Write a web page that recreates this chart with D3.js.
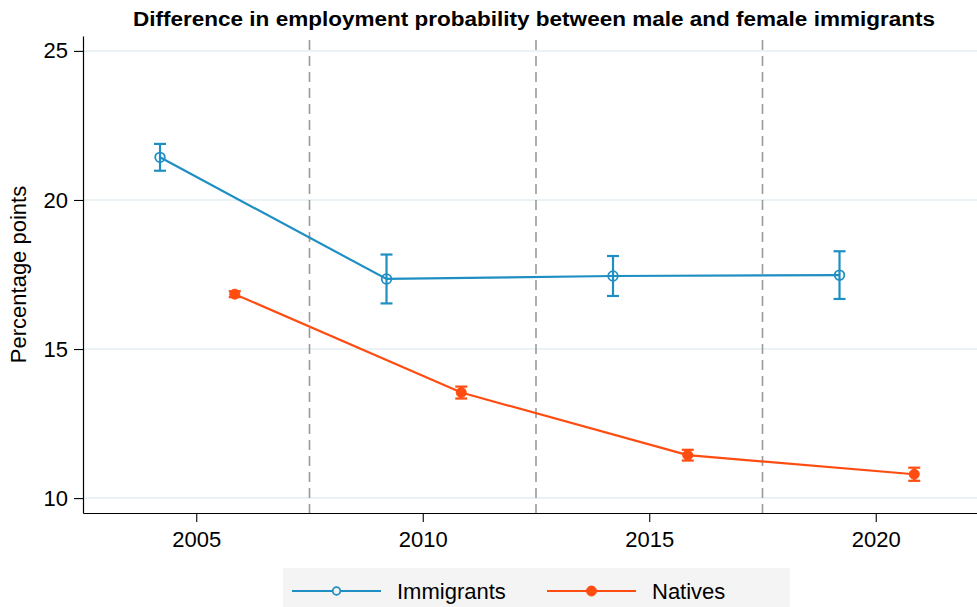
<!DOCTYPE html>
<html>
<head>
<meta charset="utf-8">
<script src="https://cdn.jsdelivr.net/npm/d3@7/dist/d3.min.js"></script>
<style>
  html, body { margin: 0; padding: 0; background: #ffffff; }
  svg { display: block; font-family: "Liberation Sans", Arial, Helvetica, sans-serif; }
</style>
</head>
<body>
<svg id="chart" width="977" height="607"></svg>
<script>
// Survey periods (x positions are offset within each 5-year window)
const immigrantYears = [2004.2, 2009.2, 2014.2, 2019.2];
const immigrantValues = [21.43, 17.35, 17.45, 17.48];
const immigrantLow = [20.98, 16.53, 16.78, 16.68];
const immigrantHigh = [21.88, 18.17, 18.12, 18.28];

const nativeYears = [2005.85, 2010.85, 2015.85, 2020.85];
const nativeValues = [16.84, 13.54, 11.44, 10.80];
const nativeLow = [16.74, 13.34, 11.26, 10.58];
const nativeHigh = [16.94, 13.74, 11.62, 11.02];

const periodBreaks = [2007.5, 2012.5, 2017.5];
const xTicks = [2005, 2010, 2015, 2020];
const yTicks = [10, 15, 20, 25];

const titleText = "Difference in employment probability between male and female immigrants";
const yLabel = "Percentage points";
const seriesNames = ["Immigrants", "Natives"];

const blue = "#1f8fc3";
const orange = "#ff4d12";

const svg = d3.select("#chart");

const x = d3.scaleLinear().domain([2002.5, 2022.5]).range([83, 989]);
const y = d3.scaleLinear().domain([9.5, 25.5]).range([513, 36]);

// horizontal grid
svg.append("g").selectAll("line").data(yTicks).join("line")
  .attr("x1", x.range()[0]).attr("x2", x.range()[1])
  .attr("y1", d => y(d)).attr("y2", d => y(d))
  .attr("stroke", "#e3eef2").attr("stroke-width", 1.5);

// period separators
svg.append("g").selectAll("line").data(periodBreaks).join("line")
  .attr("x1", d => x(d)).attr("x2", d => x(d))
  .attr("y1", y.range()[1] + 4).attr("y2", y.range()[0])
  .attr("stroke", "#9a9a9a").attr("stroke-width", 1.6)
  .attr("stroke-dasharray", "10,6");

// axes
const xAxis = svg.append("g").attr("transform", `translate(0,${y.range()[0]})`)
  .call(d3.axisBottom(x).tickValues(xTicks).tickFormat(d3.format("d"))
    .tickSizeInner(9).tickSizeOuter(0).tickPadding(9));
const yAxis = svg.append("g").attr("transform", `translate(${x.range()[0]},0)`)
  .call(d3.axisLeft(y).tickValues(yTicks)
    .tickSizeInner(9).tickSizeOuter(0).tickPadding(6));
[xAxis, yAxis].forEach(a => {
  a.select(".domain").attr("stroke", "#000").attr("stroke-width", 1.2);
  a.selectAll(".tick line").attr("stroke", "#000").attr("stroke-width", 1.1);
  a.selectAll(".tick text").attr("fill", "#000").style("font-size", "22px")
    .style("font-family", "'Liberation Sans', Arial, sans-serif");
});

function drawSeries(years, values, low, high, color, hollow) {
  const g = svg.append("g");
  const line = d3.line().x((d, i) => x(years[i])).y(d => y(d));
  g.append("path").datum(values).attr("d", line)
    .attr("fill", "none").attr("stroke", color).attr("stroke-width", 2.2);
  const cap = 6;
  const eb = g.append("g").selectAll("g").data(values).join("g");
  eb.append("line")
    .attr("x1", (d, i) => x(years[i])).attr("x2", (d, i) => x(years[i]))
    .attr("y1", (d, i) => y(low[i])).attr("y2", (d, i) => y(high[i]))
    .attr("stroke", color).attr("stroke-width", 2.2);
  eb.append("line")
    .attr("x1", (d, i) => x(years[i]) - cap).attr("x2", (d, i) => x(years[i]) + cap)
    .attr("y1", (d, i) => y(low[i])).attr("y2", (d, i) => y(low[i]))
    .attr("stroke", color).attr("stroke-width", 2.2);
  eb.append("line")
    .attr("x1", (d, i) => x(years[i]) - cap).attr("x2", (d, i) => x(years[i]) + cap)
    .attr("y1", (d, i) => y(high[i])).attr("y2", (d, i) => y(high[i]))
    .attr("stroke", color).attr("stroke-width", 2.2);
  g.append("g").selectAll("circle").data(values).join("circle")
    .attr("cx", (d, i) => x(years[i])).attr("cy", d => y(d))
    .attr("r", hollow ? 4.8 : 5)
    .attr("fill", hollow ? "#fff" : color)
    .attr("fill-opacity", hollow ? 0 : 1)
    .attr("stroke", color).attr("stroke-width", hollow ? 1.8 : 1);
}

drawSeries(immigrantYears, immigrantValues, immigrantLow, immigrantHigh, blue, true);
drawSeries(nativeYears, nativeValues, nativeLow, nativeHigh, orange, false);

// title
svg.append("text")
  .attr("x", 534).attr("y", 26)
  .attr("text-anchor", "middle")
  .style("font-size", "20px").style("font-weight", "bold")
  .attr("fill", "#000")
  .attr("textLength", 802).attr("lengthAdjust", "spacingAndGlyphs")
  .text(titleText);

// y axis label
svg.append("text")
  .attr("transform", `translate(26,${(y.range()[0] + y.range()[1]) / 2}) rotate(-90)`)
  .attr("text-anchor", "middle")
  .style("font-size", "22px").attr("fill", "#000")
  .text(yLabel);

// legend
const legend = svg.append("g");
legend.append("rect").attr("x", 283).attr("y", 568).attr("width", 507).attr("height", 45)
  .attr("fill", "#f4f4f4");
const legendItems = [
  { name: seriesNames[0], color: blue, hollow: true, x0: 292 },
  { name: seriesNames[1], color: orange, hollow: false, x0: 547 }
];
legendItems.forEach(it => {
  legend.append("line").attr("x1", it.x0).attr("x2", it.x0 + 89)
    .attr("y1", 591).attr("y2", 591)
    .attr("stroke", it.color).attr("stroke-width", 2);
  legend.append("circle").attr("cx", it.x0 + 44.5).attr("cy", 591)
    .attr("r", it.hollow ? 3.8 : 5)
    .attr("fill", it.hollow ? "#f4f4f4" : it.color)
    .attr("stroke", it.color).attr("stroke-width", it.hollow ? 1.8 : 1);
  legend.append("text").attr("x", it.x0 + 105).attr("y", 599)
    .style("font-size", "22px").attr("fill", "#000")
    .text(it.name);
});
</script>
</body>
</html>
